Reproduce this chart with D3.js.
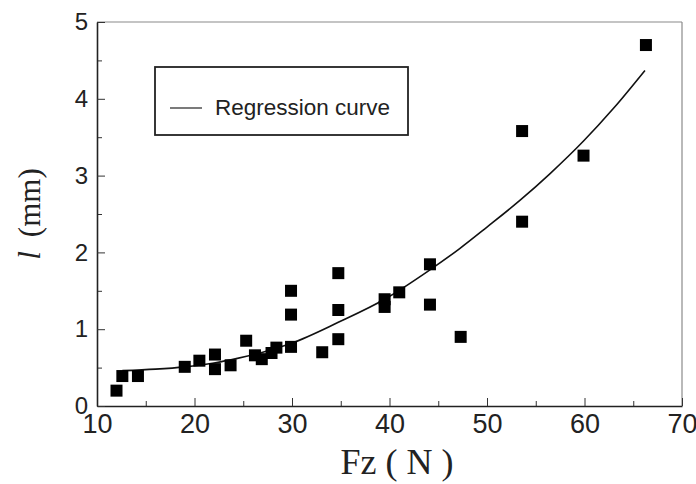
<!DOCTYPE html>
<html>
<head>
<script src="https://d3js.org/d3.v7.min.js"></script>
<style>
  body { margin: 0; background: #fff; }
</style>
</head>
<body>
<script>
// measured points, Fz (N) vs l (mm)
var fz = [12.0, 12.6, 14.2, 19.0, 20.5, 22.1, 22.1, 23.7, 25.3, 26.2, 26.9, 27.9, 28.4,
          29.9, 29.9, 29.9, 33.1, 34.75, 34.75, 34.75, 39.5, 39.5, 41.0, 44.15, 44.15,
          47.3, 53.6, 53.6, 59.9, 66.3];
var len = [0.20, 0.39, 0.39, 0.51, 0.59, 0.67, 0.48, 0.53, 0.85, 0.66, 0.61, 0.69, 0.76,
           0.77, 1.19, 1.50, 0.70, 1.73, 1.25, 0.87, 1.39, 1.29, 1.48, 1.845, 1.32,
           0.90, 3.58, 2.40, 3.26, 4.70];

// regression curve
var curveX = [12.6, 16, 19, 22, 24.4, 27, 30, 34.75, 39.5, 44, 47.2, 50, 53.4, 56.5, 59.9, 63, 66.2];
var curveY = [0.46, 0.48, 0.51, 0.56, 0.62, 0.70, 0.82, 1.09, 1.39, 1.76, 2.05, 2.33, 2.68, 3.03, 3.45, 3.88, 4.37];

var xTicks = [10, 20, 30, 40, 50, 60, 70];
var yTicks = [0, 1, 2, 3, 4, 5];

var w = 696, h = 484;
var pl = 97, pr = 682, pt = 22, pb = 406;

var svg = d3.select("body").append("svg").attr("width", w).attr("height", h);

var x = d3.scaleLinear().domain([10, 70]).range([pl, pr]);
var y = d3.scaleLinear().domain([0, 5]).range([pb, pt]);

// frame: top and right lighter
svg.append("line").attr("x1", pl).attr("x2", pr).attr("y1", pt).attr("y2", pt)
  .attr("stroke", "#8a8a8a").attr("stroke-width", 1.2);
svg.append("line").attr("x1", pr).attr("x2", pr).attr("y1", pt).attr("y2", pb)
  .attr("stroke", "#8a8a8a").attr("stroke-width", 1.2);

// axes with ticks pointing inward
var xMinor = d3.range(15, 70, 10);
var yMinor = d3.range(0.5, 5, 1);

var gx = svg.append("g").attr("transform", "translate(0," + pb + ")");
gx.call(d3.axisBottom(x).tickValues(xMinor).tickSize(-5).tickFormat(""));
gx.select(".domain").remove();
gx.selectAll(".tick line").attr("stroke", "#333");
var gx2 = svg.append("g").attr("transform", "translate(0," + pb + ")")
  .call(d3.axisBottom(x).tickValues(xTicks).tickSize(-8).tickFormat(d3.format("d")).tickSizeOuter(0));
gx2.select(".domain").attr("stroke", "#222").attr("stroke-width", 1.6);
gx2.selectAll(".tick line").attr("stroke", "#333");
gx2.selectAll(".tick text").attr("font-family", "Liberation Sans, Arial, sans-serif")
  .attr("font-size", 27).attr("fill", "#222").attr("y", 8).attr("dy", "0.71em");

var gy = svg.append("g").attr("transform", "translate(" + pl + ",0)");
gy.call(d3.axisLeft(y).tickValues(yMinor).tickSize(-5).tickFormat(""));
gy.select(".domain").remove();
gy.selectAll(".tick line").attr("stroke", "#333");
var gy2 = svg.append("g").attr("transform", "translate(" + pl + ",0)")
  .call(d3.axisLeft(y).tickValues(yTicks).tickSize(-8).tickFormat(d3.format("d")).tickSizeOuter(0));
gy2.select(".domain").attr("stroke", "#222").attr("stroke-width", 1.6);
gy2.selectAll(".tick line").attr("stroke", "#333");
gy2.selectAll(".tick text").attr("font-family", "Liberation Sans, Arial, sans-serif")
  .attr("font-size", 24).attr("fill", "#222").attr("x", -9);

// regression curve
var line = d3.line().x(function(d, i) { return x(curveX[i]); })
  .y(function(d, i) { return y(curveY[i]); }).curve(d3.curveMonotoneX);
svg.append("path").attr("d", line(curveX)).attr("fill", "none")
  .attr("stroke", "#111").attr("stroke-width", 1.6);

// data squares
var s = 12;
svg.selectAll("rect.pt").data(fz).enter().append("rect").attr("class", "pt")
  .attr("x", function(d) { return x(d) - s / 2; })
  .attr("y", function(d, i) { return y(len[i]) - s / 2; })
  .attr("width", s).attr("height", s).attr("fill", "#000");

// legend
svg.append("rect").attr("x", 155).attr("y", 67).attr("width", 253).attr("height", 68)
  .attr("fill", "none").attr("stroke", "#222").attr("stroke-width", 1.8);
svg.append("line").attr("x1", 170).attr("x2", 202).attr("y1", 108).attr("y2", 108)
  .attr("stroke", "#333").attr("stroke-width", 1.3);
svg.append("text").attr("x", 215).attr("y", 115).text("Regression curve")
  .attr("font-family", "Liberation Sans, Arial, sans-serif").attr("font-size", 22.5).attr("fill", "#222");

// axis titles
svg.append("text").attr("x", 397).attr("y", 474).attr("text-anchor", "middle")
  .attr("font-family", "Liberation Serif, Times New Roman, serif").attr("font-size", 36).attr("fill", "#222")
  .text("Fz ( N )");

var yt = svg.append("text").attr("transform", "translate(40,214) rotate(-90)")
  .attr("text-anchor", "middle")
  .attr("font-family", "Liberation Serif, Times New Roman, serif").attr("font-size", 31).attr("fill", "#222");
yt.append("tspan").attr("font-style", "italic").text("l");
yt.append("tspan").attr("dx", 14).text("(mm)");
</script>
</body>
</html>
